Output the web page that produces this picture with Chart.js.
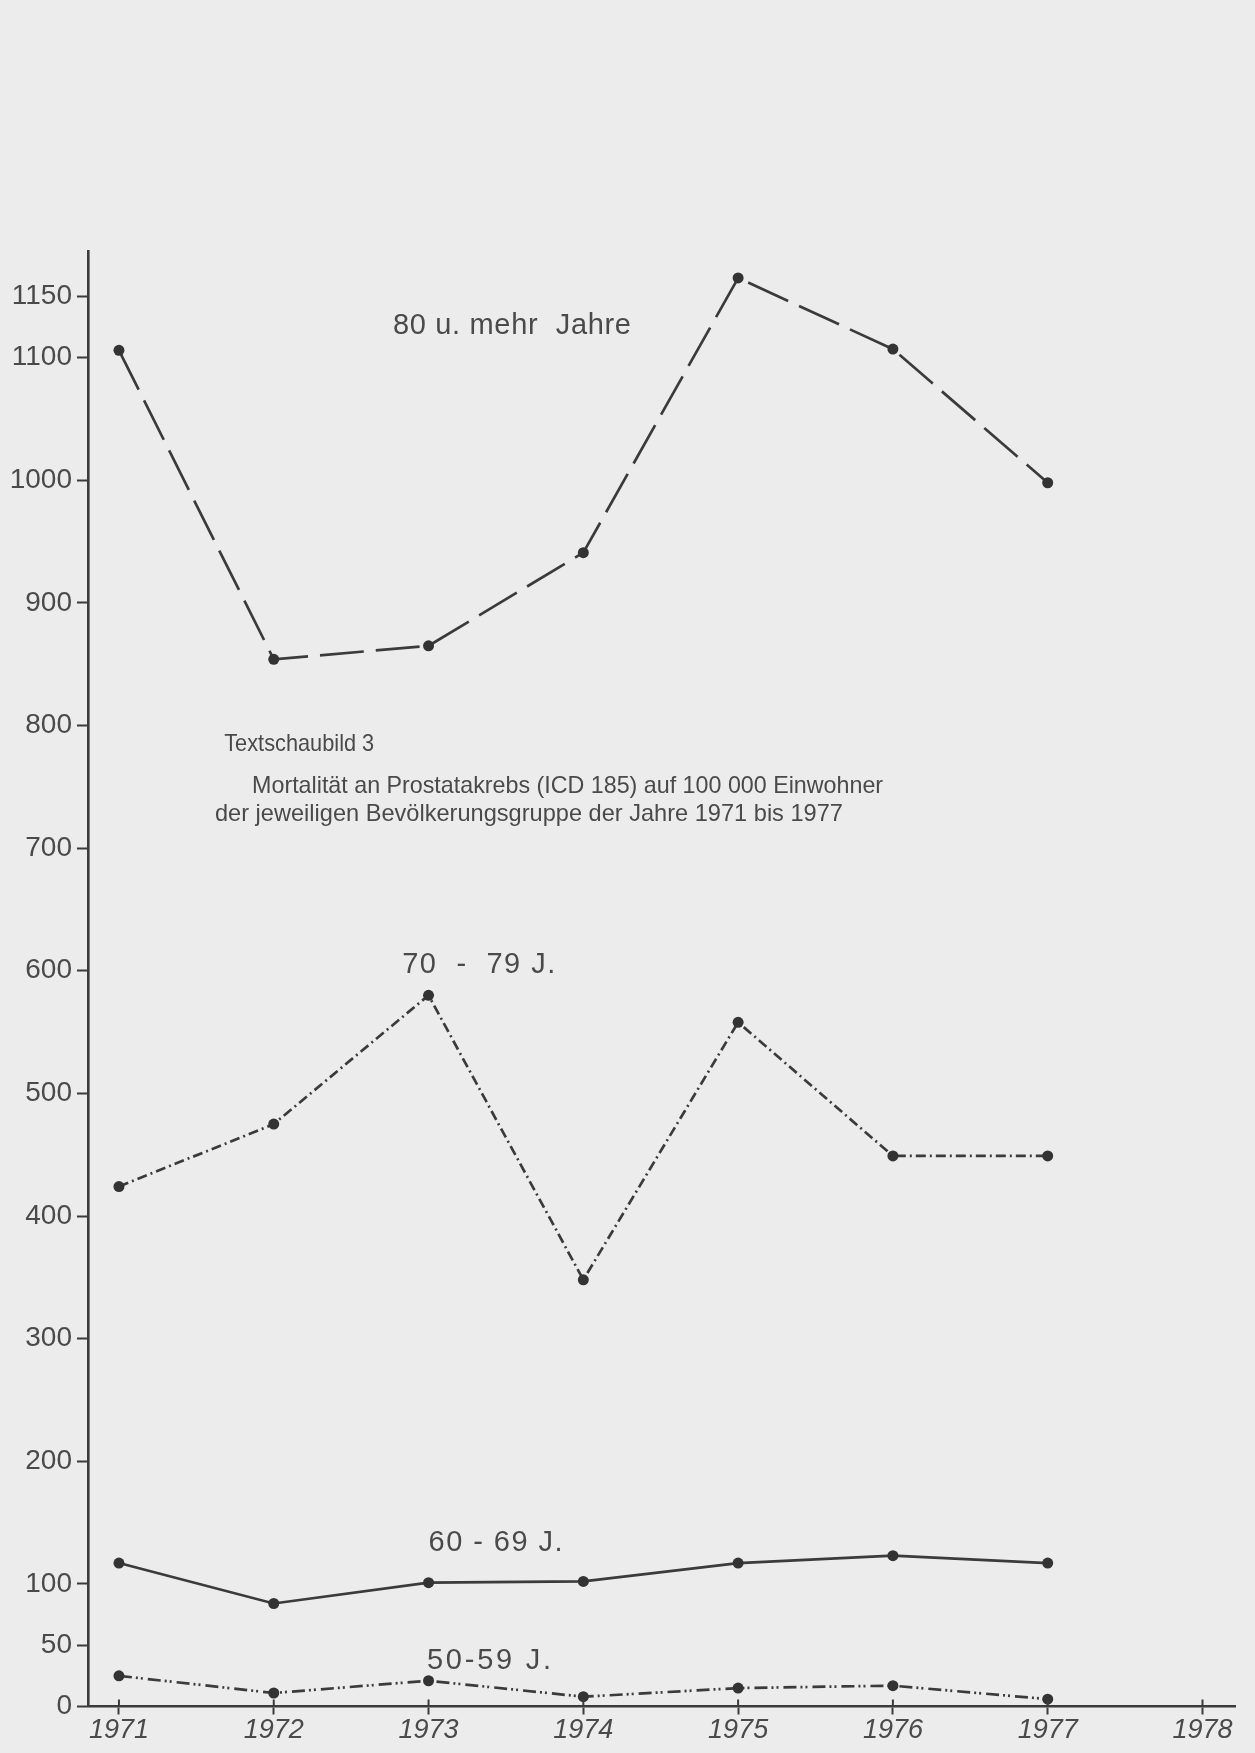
<!DOCTYPE html>
<html><head><meta charset="utf-8">
<script src="https://cdn.jsdelivr.net/npm/chart.js@4"></script>
<style>html,body{margin:0;padding:0;background:#ececec;overflow:hidden}#wrap{width:1255px;height:1753px}</style>
</head><body><div id="wrap"><canvas id="c" width="1255" height="1753"></canvas></div>
<script>
// ---- data ----
const years = [1971, 1972, 1973, 1974, 1975, 1976, 1977];
const s80 = [1106, 854, 865, 941, 1165, 1107, 998];
const s70 = [424, 475, 580, 348, 558, 449, 449];
const s60 = [117, 84, 101, 102, 117, 123, 117];
const s50 = [25, 11, 21, 8, 15, 17, 6];
const yTicks = [0, 50, 100, 200, 300, 400, 500, 600, 700, 800, 900, 1000, 1100, 1150];
const xTicks = [1971, 1972, 1973, 1974, 1975, 1976, 1977, 1978];
const seriesNames = ["80 u. mehr  Jahre", "70  -  79 J.", "60 - 69 J.", "50-59 J."];
const titleLines = ["Textschaubild 3",
  "Mortalität an Prostatakrebs (ICD 185) auf 100 000 Einwohner",
  "der jeweiligen Bevölkerungsgruppe der Jahre 1971 bis 1977"];

// ---- styling / annotation anchors (data coordinates) and text widths ----
const INK = '#3b3b3b';
const TEXT = '#4a4a4a';
const labelAnchors = [[1972.77, 1126, 238], [1972.83, 605, 153], [1973.0, 133, 134], [1972.99, 37, 124]];
const titleAnchors = [[1971.68, 779, 150], [1971.86, 745, 631], [1971.62, 722, 628]];

const pts = arr => years.map((x, i) => ({x: x, y: arr[i]}));
function ds(label, arr, dash) {
  return {label, data: pts(arr), borderColor: INK, backgroundColor: INK,
    borderWidth: 2.7, borderDash: dash, pointRadius: 5.5, pointBackgroundColor: '#333',
    pointBorderWidth: 0, tension: 0, fill: false};
}

function fitText(ctx, t, x, y, w) {
  ctx.letterSpacing = '0px';
  const m = ctx.measureText(t).width;
  if (m > w) { ctx.fillText(t, x, y, w); return; }
  const ls = (w - m) / Math.max(1, t.length - 1);
  ctx.letterSpacing = ls.toFixed(2) + 'px';
  ctx.fillText(t, x, y);
  ctx.letterSpacing = '0px';
}

const bgPlugin = {id: 'bg', beforeDraw(c) {
  const ctx = c.ctx; ctx.save(); ctx.fillStyle = '#ececec';
  ctx.fillRect(0, 0, c.width, c.height); ctx.restore(); }};

const textPlugin = {id: 'txt', afterDraw(c) {
  const ctx = c.ctx, xs = c.scales.x, ys = c.scales.y;
  ctx.save();
  ctx.strokeStyle = INK; ctx.lineWidth = 2;
  xTicks.forEach(v => { const px = xs.getPixelForValue(v);
    ctx.beginPath(); ctx.moveTo(px, ys.bottom); ctx.lineTo(px, ys.bottom - 7); ctx.stroke(); });
  ctx.fillStyle = TEXT; ctx.textBaseline = 'middle'; ctx.textAlign = 'left';
  ctx.font = '29px "Liberation Sans", sans-serif';
  seriesNames.forEach((t, i) => {
    const a = labelAnchors[i];
    fitText(ctx, t, xs.getPixelForValue(a[0]), ys.getPixelForValue(a[1]), a[2]);
  });
  ctx.textBaseline = 'alphabetic';
  ctx.font = '24px "Liberation Sans Narrow", "Liberation Sans", sans-serif';
  titleLines.forEach((t, i) => {
    const a = titleAnchors[i];
    fitText(ctx, t, xs.getPixelForValue(a[0]), ys.getPixelForValue(a[1]), a[2]);
  });
  ctx.restore();
}};

new Chart(document.getElementById('c'), {
  type: 'line',
  data: {datasets: [
    ds(seriesNames[0], s80, [44, 12]),
    ds(seriesNames[1], s70, [10, 4, 2, 4]),
    ds(seriesNames[2], s60, []),
    ds(seriesNames[3], s50, [13, 4, 2, 3, 2, 5])
  ]},
  options: {
    responsive: false, animation: false, devicePixelRatio: 1,
    layout: {padding: {top: 251, right: 20, left: 0, bottom: 0}},
    plugins: {legend: {display: false}, tooltip: {enabled: false}},
    scales: {
      x: {type: 'linear', min: 1970.8, max: 1978.21,
        afterBuildTicks: s => { s.ticks = xTicks.map(v => ({value: v})); },
        afterFit: s => { s.height = 46.5; },
        ticks: {callback: v => String(v), color: TEXT, padding: 0,
          font: {family: '"Liberation Sans", sans-serif', size: 27, style: 'italic'}},
        grid: {drawOnChartArea: false, tickLength: 8, tickColor: INK, tickWidth: 2},
        border: {color: INK, width: 2.6}},
      y: {type: 'linear', min: 0, max: 1187,
        afterBuildTicks: s => { s.ticks = yTicks.map(v => ({value: v})); },
        afterFit: s => { s.width = 88; },
        ticks: {callback: v => String(v), color: TEXT, padding: 5,
          font: {family: '"Liberation Sans", sans-serif', size: 28}},
        grid: {drawOnChartArea: false, tickLength: 11, tickColor: INK, tickWidth: 2},
        border: {color: INK, width: 2.6}}
    }
  },
  plugins: [bgPlugin, textPlugin]
});
</script></body></html>
